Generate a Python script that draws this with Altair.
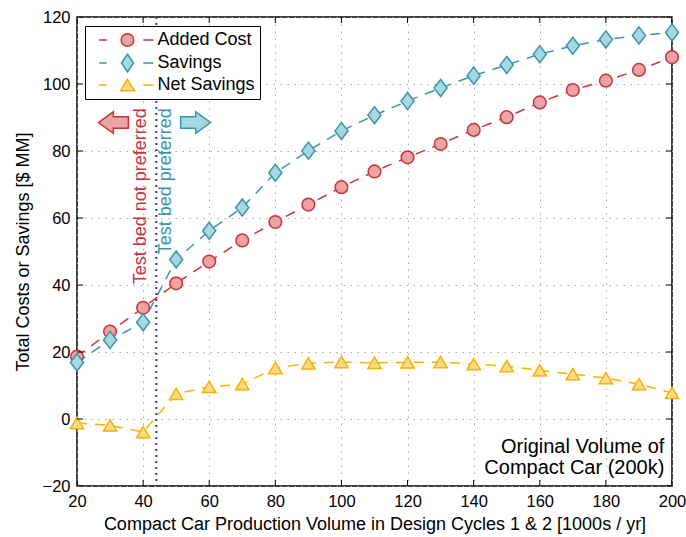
import altair as alt
import pandas as pd

FONT = "Liberation Sans"

# ---------------- data ----------------
volume = [20, 30, 40, 50, 60, 70, 80, 90, 100, 110, 120, 130, 140, 150, 160, 170, 180, 190, 200]
added_cost = [18.6, 26.1, 33.2, 40.5, 47.0, 53.3, 58.8, 64.0, 69.2, 73.9, 78.1, 82.1, 86.3, 90.1, 94.5, 98.2, 101.0, 104.2, 108.0]
savings = [16.9, 23.6, 28.9, 47.6, 56.2, 63.1, 73.5, 80.1, 86.0, 90.7, 94.9, 98.8, 102.5, 105.7, 108.9, 111.4, 113.3, 114.5, 115.4]
net_savings = [-1.2, -1.9, -3.9, 7.5, 9.6, 10.4, 15.2, 16.6, 17.0, 16.8, 16.9, 17.0, 16.4, 15.8, 14.5, 13.4, 12.2, 10.4, 7.8]

series_names = ["Added Cost", "Savings", "Net Savings"]
stroke_colors = ["#C9343A", "#3A95AC", "#F5B400"]
fill_colors = ["#EBA3A6", "#A7D8E2", "#FFD98A"]

x_ticks = [20, 40, 60, 80, 100, 120, 140, 160, 180, 200]
y_ticks = [-20, 0, 20, 40, 60, 80, 100, 120]

threshold = [44]
arrow_x = [31.0, 55.9]
arrow_y = [88.5, 88.5]
pref_labels = ["Test bed not preferred", "Test bed preferred"]
pref_x = [39.4, 46.8]
pref_y = [92.8, 92.8]
note_lines = ["Original Volume of", "Compact Car (200k)"]
note_x = [197.7, 197.7]
note_y = [-8.3, -14.7]

rows = []
for name, vals in zip(series_names, [added_cost, savings, net_savings]):
    for v, y in zip(volume, vals):
        rows.append({"volume": v, "value": y, "series": name})
df = pd.DataFrame(rows)

# ---------------- shapes ----------------
marker_paths = [
    "circle",
    "M 0 -1.35 L 1.03 0 L 0 1.35 L -1.03 0 Z",
    "M 0 -0.9 L 1.05 0.9 L -1.05 0.9 Z",
]
dash_part = "M -4.5 0 L -3.3 0 M 2.5 0 L 4.1 0 "
legend_paths = [
    dash_part + "M 1 0 A 1 1 0 1 1 -1 0 A 1 1 0 1 1 1 0 Z",
    dash_part + "M 0 -1.4 L 0.95 0 L 0 1.4 L -0.95 0 Z",
    dash_part + "M 0 -0.9 L 1.1 0.9 L -1.1 0.9 Z",
]
left_arrow = "M -1 0 L 0 -0.72 L 0 -0.38 L 1 -0.38 L 1 0.38 L 0 0.38 L 0 0.72 Z"
right_arrow = "M 1 0 L 0 -0.72 L 0 -0.38 L -1 -0.38 L -1 0.38 L 0 0.38 L 0 0.72 Z"

xscale = alt.Scale(domain=[20, 200], nice=False, zero=False)
yscale = alt.Scale(domain=[-20, 120], nice=False, zero=False)

x_axis = alt.Axis(
    values=x_ticks, grid=True, labelPadding=7, titlePadding=6, labelOverlap=False,
    labelFlush=False,
    title="Compact Car Production Volume in Design Cycles 1 & 2 [1000s / yr]",
)
y_axis = alt.Axis(
    values=y_ticks, grid=True, labelPadding=7, titlePadding=10, labelOverlap=False,
    labelFlush=False, title="Total Costs or Savings [$ MM]",
)


def X(f):
    return alt.X(f, type="quantitative", scale=xscale, axis=x_axis)


def Y(f):
    return alt.Y(f, type="quantitative", scale=yscale, axis=y_axis)


lines = alt.Chart(df).mark_line(strokeWidth=1.5, strokeDash=[10, 8]).encode(
    x=X("volume"),
    y=Y("value"),
    stroke=alt.Stroke("series:N", scale=alt.Scale(domain=series_names, range=stroke_colors), legend=None),
)

points = alt.Chart(df).mark_point(filled=True, opacity=1, size=160, strokeWidth=1.5).encode(
    x=X("volume"),
    y=Y("value"),
    fill=alt.Fill("series:N", scale=alt.Scale(domain=series_names, range=fill_colors), legend=None),
    stroke=alt.Stroke("series:N", scale=alt.Scale(domain=series_names, range=stroke_colors), legend=None),
    shape=alt.Shape("series:N", scale=alt.Scale(domain=series_names, range=marker_paths), legend=None),
)

leg = alt.Legend(
    orient="none", legendX=8, legendY=9, title=None,
    labelFontSize=18, labelFont=FONT, labelColor="black",
    symbolSize=160, symbolStrokeWidth=1.5, symbolOffset=28.5, labelOffset=21,
    padding=5, rowPadding=1, strokeColor="black", fillColor="white",
)

legend_layer = alt.Chart(df).transform_filter("false").mark_point(
    filled=True, opacity=1, size=160, strokeWidth=1.5
).encode(
    x=X("volume"),
    y=Y("value"),
    fill=alt.Fill("series:N", scale=alt.Scale(domain=series_names, range=fill_colors), legend=leg),
    stroke=alt.Stroke("series:N", scale=alt.Scale(domain=series_names, range=stroke_colors), legend=leg),
    shape=alt.Shape("series:N", scale=alt.Scale(domain=series_names, range=legend_paths), legend=leg),
)

xt_df = pd.DataFrame({"volume": x_ticks})
yt_df = pd.DataFrame({"value": y_ticks})
tick_style = dict(color="black", size=12, thickness=1, clip=True, opacity=1)
top_ticks = alt.Chart(xt_df).mark_tick(**tick_style).encode(x=X("volume"), y=alt.value(0))
bottom_ticks = alt.Chart(xt_df).mark_tick(**tick_style).encode(x=X("volume"), y=alt.value(469))
left_ticks = alt.Chart(yt_df).mark_tick(**tick_style).encode(y=Y("value"), x=alt.value(0))
right_ticks = alt.Chart(yt_df).mark_tick(**tick_style).encode(y=Y("value"), x=alt.value(595))

rule = alt.Chart(pd.DataFrame({"volume": threshold})).mark_rule(
    color="#2E3D8C", strokeWidth=2, strokeDash=[2, 4]
).encode(x=X("volume"))

arrow_l = alt.Chart(pd.DataFrame({"volume": arrow_x[:1], "value": arrow_y[:1]})).mark_point(
    shape=left_arrow, size=900, filled=True, fill=fill_colors[0], stroke=stroke_colors[0],
    strokeWidth=1.5, opacity=1,
).encode(x=X("volume"), y=Y("value"))
arrow_r = alt.Chart(pd.DataFrame({"volume": arrow_x[1:], "value": arrow_y[1:]})).mark_point(
    shape=right_arrow, size=900, filled=True, fill=fill_colors[1], stroke=stroke_colors[1],
    strokeWidth=1.5, opacity=1,
).encode(x=X("volume"), y=Y("value"))

txt_red = alt.Chart(pd.DataFrame({"volume": pref_x[:1], "value": pref_y[:1], "t": pref_labels[:1]})).mark_text(
    angle=270, align="right", baseline="middle", fontSize=18, font=FONT, color=stroke_colors[0]
).encode(x=X("volume"), y=Y("value"), text="t:N")
txt_blue = alt.Chart(pd.DataFrame({"volume": pref_x[1:], "value": pref_y[1:], "t": pref_labels[1:]})).mark_text(
    angle=270, align="right", baseline="middle", fontSize=18, font=FONT, color=stroke_colors[1]
).encode(x=X("volume"), y=Y("value"), text="t:N")

note = alt.Chart(pd.DataFrame({"volume": note_x, "value": note_y, "t": note_lines})).mark_text(
    align="right", baseline="middle", fontSize=20, font=FONT, color="black"
).encode(x=X("volume"), y=Y("value"), text="t:N")

chart = alt.layer(
    lines, rule, points, legend_layer,
    top_ticks, bottom_ticks, left_ticks, right_ticks,
    arrow_l, arrow_r, txt_red, txt_blue, note,
).resolve_scale(
    fill="independent", stroke="independent", shape="independent"
).properties(
    width=595, height=469,
    padding={"left": 77, "top": 17, "right": 14, "bottom": 51},
    autosize=alt.AutoSizeParams(type="none"),
    background="white",
).configure_view(
    stroke="black", strokeWidth=1.5
).configure_axis(
    labelFont=FONT, titleFont=FONT, labelColor="black", titleColor="black",
    labelFontSize=16.5, titleFontSize=18, titleFontWeight="normal",
    domain=False, ticks=False, gridColor="#a8a8a8", gridDash=[1.5, 5.5], gridWidth=1,
)

chart.save("out.html", embed_options={"renderer": "svg", "actions": False})
